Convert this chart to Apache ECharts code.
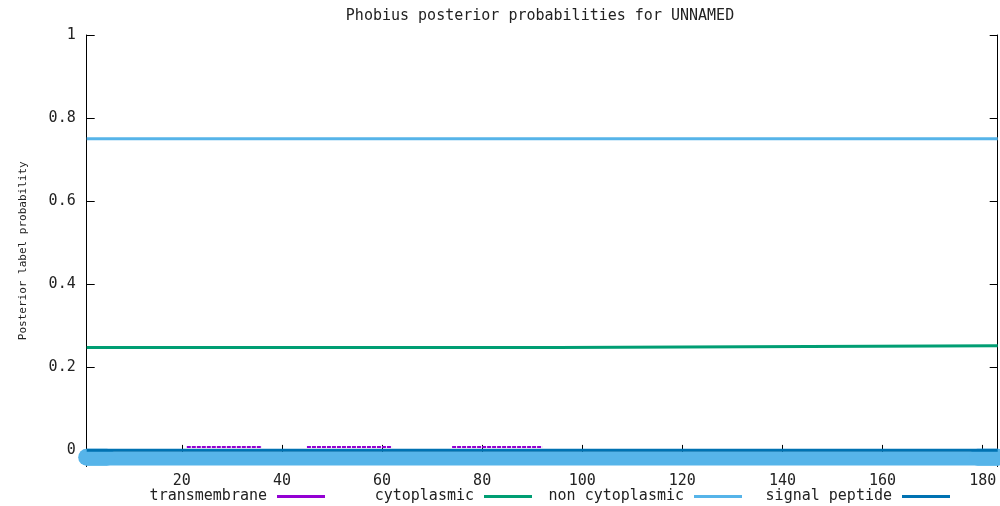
<!DOCTYPE html>
<html>
<head>
<meta charset="utf-8">
<script src="https://cdn.jsdelivr.net/npm/echarts@6/dist/echarts.min.js"></script>
<style>html,body{margin:0;padding:0;background:#fff;}#chart{width:1000px;height:506px;}</style>
</head>
<body>
<div id="chart"></div>
<script>
// ---- data ----
const titleText = 'Phobius posterior probabilities for UNNAMED';
const yAxisName = 'Posterior label probability';
const xRange = [1, 183];
const yRange = [-0.04, 1];
const xTicks = [20, 40, 60, 80, 100, 120, 140, 160, 180];
const yTicks = [0, 0.2, 0.4, 0.6, 0.8, 1];
const seriesNames = ['transmembrane', 'cytoplasmic', 'non cytoplasmic', 'signal peptide'];
const nonCytoplasmic = [[1, 0.75], [183, 0.75]];
const cytoplasmic = [[1, 0.247], [95, 0.251], [183, 0.251]];   // step at residue 95
const signalPeptide = [[1, -0.001], [183, -0.001]];
const tmSegment1 = [[21, 0.007], [36, 0.007]];
const tmSegment2 = [[45, 0.007], [62, 0.007]];
const tmSegment3 = [[74, 0.007], [92, 0.007]];
const topologyBand = [[1, -0.0205], [183, -0.0205]];
const bandEndLeft = [[1, -0.0175], [5, -0.0175]];
const bandEndRight = [[179, -0.0175], [183, -0.0175]];

// ---- styles ----
const C = { tm: '#9400d3', cyt: '#009e73', non: '#56b4e9', sig: '#0072b2' };
const font = 'DejaVu Sans Mono';
const txt = '#222';

const chart = echarts.init(document.getElementById('chart'), null, { renderer: 'canvas' });

function tmSeries(data) {
  return { name: seriesNames[0], type: 'line', data: data, symbol: 'none', silent: true,
    lineStyle: { color: C.tm, width: 2, type: [4, 1] }, itemStyle: { color: C.tm }, z: 4 };
}
const legendSampleEnds = [325, 532, 742, 950];
const legends = seriesNames.map((n, i) => ({
  data: [n], orient: 'horizontal', align: 'right', right: 1000 - legendSampleEnds[i], top: 489,
  padding: 0, icon: 'rect', itemWidth: 48, itemHeight: 3, selectedMode: false,
  textStyle: { fontFamily: font, fontSize: 15, color: txt, padding: [0, 5, 0, 0] }
}));

const option = {
  animation: false,
  backgroundColor: '#fff',
  title: { text: titleText, left: 535, textAlign: 'center', top: 4,
    textStyle: { fontFamily: font, fontSize: 15, fontWeight: 'normal', color: txt } },
  legend: legends,
  grid: { left: 86.7, right: 2.3, top: 35, bottom: 39.5, outerBoundsMode: 'none', containLabel: false },
  xAxis: [
    { type: 'value', min: xRange[0], max: xRange[1], position: 'bottom',
      axisLine: { show: true, lineStyle: { color: '#000', width: 1 } },
      axisTick: { show: true, inside: true, length: 5, customValues: xTicks, lineStyle: { color: '#000' } },
      axisLabel: { customValues: xTicks, margin: 7, fontFamily: font, fontSize: 15, color: txt },
      splitLine: { show: false } },
    { type: 'value', min: xRange[0], max: xRange[1], position: 'top',
      axisLine: { show: true, lineStyle: { color: '#000', width: 1 } },
      axisTick: { show: true, inside: true, length: 5, customValues: xTicks, lineStyle: { color: '#000' } },
      axisLabel: { show: false }, splitLine: { show: false } }
  ],
  yAxis: [
    { type: 'value', min: yRange[0], max: yRange[1], position: 'left',
      name: yAxisName, nameLocation: 'middle', nameGap: 58,
      nameTextStyle: { fontFamily: font, fontSize: 11, color: txt },
      axisLine: { show: true, lineStyle: { color: '#000', width: 1 } },
      axisTick: { show: true, inside: true, length: 8, customValues: yTicks, lineStyle: { color: '#000' } },
      axisLabel: { customValues: yTicks, margin: 11, fontFamily: font, fontSize: 15, color: txt },
      splitLine: { show: false } },
    { type: 'value', min: yRange[0], max: yRange[1], position: 'right',
      axisLine: { show: true, lineStyle: { color: '#000', width: 1 } },
      axisTick: { show: true, inside: true, length: 8, customValues: yTicks, lineStyle: { color: '#000' } },
      axisLabel: { show: false }, splitLine: { show: false } }
  ],
  series: [
    tmSeries(tmSegment1), tmSeries(tmSegment2), tmSeries(tmSegment3),
    { name: seriesNames[1], type: 'line', data: cytoplasmic, step: 'end', symbol: 'none', silent: true,
      lineStyle: { color: C.cyt, width: 3 }, itemStyle: { color: C.cyt }, z: 3 },
    { name: seriesNames[2], type: 'line', data: nonCytoplasmic, symbol: 'none', silent: true,
      lineStyle: { color: C.non, width: 3 }, itemStyle: { color: C.non }, z: 3 },
    { name: 'band', type: 'line', data: topologyBand, symbol: 'none', silent: true, clip: false,
      lineStyle: { color: C.non, width: 14, cap: 'round' }, itemStyle: { color: C.non }, z: 1 },
    { name: 'bandL', type: 'line', data: bandEndLeft, symbol: 'none', silent: true, clip: false,
      lineStyle: { color: C.non, width: 17, cap: 'round' }, itemStyle: { color: C.non }, z: 1 },
    { name: 'bandR', type: 'line', data: bandEndRight, symbol: 'none', silent: true, clip: false,
      lineStyle: { color: C.non, width: 17, cap: 'round' }, itemStyle: { color: C.non }, z: 1 },
    { name: seriesNames[3], type: 'line', data: signalPeptide, symbol: 'none', silent: true,
      lineStyle: { color: C.sig, width: 3 }, itemStyle: { color: C.sig }, z: 5 }
  ]
};
chart.setOption(option);
</script>
</body>
</html>
